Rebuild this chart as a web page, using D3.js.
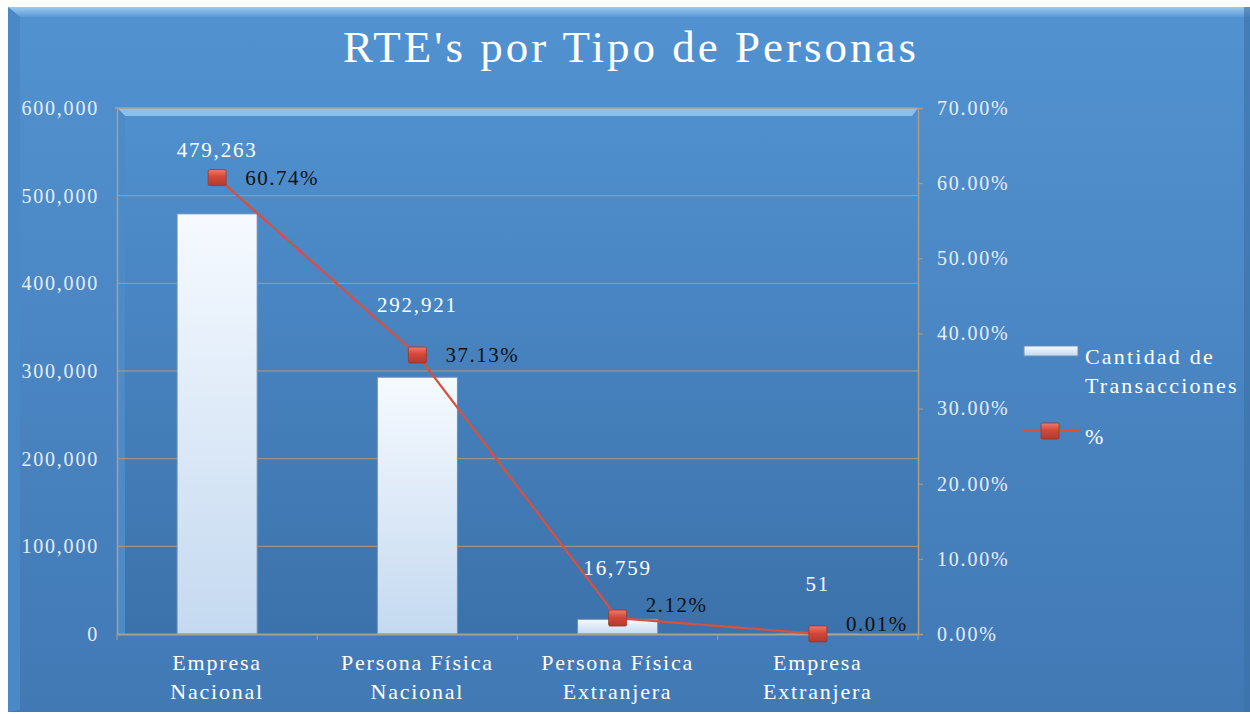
<!DOCTYPE html>
<html>
<head>
<meta charset="utf-8">
<script src="https://cdn.jsdelivr.net/npm/d3@7"></script>
<style>
  html, body { margin: 0; padding: 0; background: #fff; }
  svg { display: block; font-family: "Liberation Serif", "DejaVu Serif", serif; }
</style>
</head>
<body>
<svg id="chart" width="1250" height="714"></svg>
<script>
// chart data
const categories = [['Empresa', 'Nacional'], ['Persona Física', 'Nacional'], ['Persona Física', 'Extranjera'], ['Empresa', 'Extranjera']];
const cantidad = [479263, 292921, 16759, 51];
const percent = [60.74, 37.13, 2.12, 0.01];
const leftTicks = [0, 100000, 200000, 300000, 400000, 500000, 600000];
const rightTicks = [0, 10, 20, 30, 40, 50, 60, 70];
const legendNames = [['Cantidad de', 'Transacciones'], ['%']];
const title = "RTE's por Tipo de Personas";

// small label nudges for the crowded points near the bottom
const pctLabelDy = [0, 0, -13, -10];

const svg = d3.select('#chart');
const W = 1250, H = 714;
const plot = {left: 117, right: 918, top: 108, bottom: 634};

const defs = svg.append('defs');

const bg = defs.append('linearGradient').attr('id', 'bg').attr('x1', 0).attr('y1', 0).attr('x2', 0).attr('y2', 1);
bg.append('stop').attr('offset', '0%').attr('stop-color', '#5292d0');
bg.append('stop').attr('offset', '100%').attr('stop-color', '#4179b5');

const plotBg = defs.append('linearGradient').attr('id', 'plotBg').attr('x1', 0).attr('y1', 0).attr('x2', 0).attr('y2', 1);
plotBg.append('stop').attr('offset', '0%').attr('stop-color', '#5090cf');
plotBg.append('stop').attr('offset', '100%').attr('stop-color', '#3c72ab');

const barFill = defs.append('linearGradient').attr('id', 'barFill').attr('x1', 0).attr('y1', 0).attr('x2', 0).attr('y2', 1);
barFill.append('stop').attr('offset', '0%').attr('stop-color', '#f6faff');
barFill.append('stop').attr('offset', '100%').attr('stop-color', '#c4d9f0');

const marker = defs.append('linearGradient').attr('id', 'marker').attr('x1', 0).attr('y1', 0).attr('x2', 0).attr('y2', 1);
marker.append('stop').attr('offset', '0%').attr('stop-color', '#f07a6c');
marker.append('stop').attr('offset', '45%').attr('stop-color', '#d2483a');
marker.append('stop').attr('offset', '100%').attr('stop-color', '#b23a2e');

const bevel = defs.append('linearGradient').attr('id', 'bevel').attr('x1', 0).attr('y1', 0).attr('x2', 0).attr('y2', 1);
bevel.append('stop').attr('offset', '0%').attr('stop-color', '#9ccaf0');
bevel.append('stop').attr('offset', '100%').attr('stop-color', '#5a9ad6');

// chart background with a bevelled top edge
svg.append('rect').attr('x', 8).attr('y', 7).attr('width', W - 8).attr('height', H - 9).attr('fill', 'url(#bg)');
svg.append('path')
    .attr('d', `M8,7 L${W},7 L${W},17 L20,17 Z`)
    .attr('fill', 'url(#bevel)');
svg.append('path')
    .attr('d', `M8,7 L20,17 L20,${H - 4} L8,${H - 2} Z`)
    .attr('fill', '#4a88c6');
svg.append('rect').attr('x', W - 6).attr('y', 7).attr('width', 6).attr('height', H - 9).attr('fill', '#3a6fa6').attr('opacity', 0.6);

svg.append('text')
    .attr('x', 631).attr('y', 62)
    .attr('text-anchor', 'middle')
    .attr('font-size', 45)
    .attr('letter-spacing', 3)
    .attr('fill', '#ffffff')
    .text(title);

// scales
const x = d3.scaleBand().domain(d3.range(categories.length)).range([plot.left, plot.right]).paddingInner(0.6).paddingOuter(0.3);
const xc = i => x(i) + x.bandwidth() / 2;
const yL = d3.scaleLinear().domain([0, 600000]).range([plot.bottom, plot.top]);
const yR = d3.scaleLinear().domain([0, 70]).range([plot.bottom, plot.top]);

// plot area
svg.append('rect')
    .attr('x', plot.left).attr('y', plot.top)
    .attr('width', plot.right - plot.left).attr('height', plot.bottom - plot.top)
    .attr('fill', 'url(#plotBg)');
svg.append('path')
    .attr('d', `M${plot.left},${plot.top} L${plot.right},${plot.top} L${plot.right - 6},${plot.top + 8} L${plot.left + 8},${plot.top + 8} Z`)
    .attr('fill', '#8cc0ec');
svg.append('path')
    .attr('d', `M${plot.left},${plot.top} L${plot.left + 8},${plot.top + 8} L${plot.left + 8},${plot.bottom} L${plot.left},${plot.bottom} Z`)
    .attr('fill', '#4d8bc8');

// gridlines
svg.append('g')
    .selectAll('line')
    .data(leftTicks.slice(1, -1))
    .join('line')
    .attr('x1', plot.left).attr('x2', plot.right)
    .attr('y1', d => yL(d)).attr('y2', d => yL(d))
    .attr('stroke', '#b09c7e').attr('stroke-width', 1);
svg.append('line')
    .attr('x1', plot.left - 2).attr('x2', plot.right)
    .attr('y1', plot.top).attr('y2', plot.top)
    .attr('stroke', '#a8a090').attr('stroke-width', 1.5);

// left axis
const leftAxis = svg.append('g')
    .attr('transform', `translate(${plot.left},0)`)
    .call(d3.axisLeft(yL).tickValues(leftTicks).tickFormat(d3.format(',')).tickSize(0).tickPadding(18));
leftAxis.select('.domain').attr('stroke', '#a8a090').attr('stroke-width', 1.5);
leftAxis.selectAll('text')
    .attr('font-family', '"Liberation Serif", serif')
    .attr('font-size', 20).attr('letter-spacing', 1.8).attr('fill', '#e6eef8');

// right axis
const rightAxis = svg.append('g')
    .attr('transform', `translate(${plot.right},0)`)
    .call(d3.axisRight(yR).tickValues(rightTicks).tickFormat(d => d.toFixed(2) + '%').tickSize(5).tickPadding(14));
rightAxis.select('.domain').attr('stroke', '#b09c7e').attr('stroke-width', 1.5);
rightAxis.selectAll('.tick line').attr('stroke', '#b09c7e');
rightAxis.selectAll('text')
    .attr('font-family', '"Liberation Serif", serif')
    .attr('font-size', 20).attr('letter-spacing', 1.8).attr('fill', '#e6eef8');

// bars
svg.append('g')
    .selectAll('rect')
    .data(cantidad)
    .join('rect')
    .attr('x', (d, i) => x(i)).attr('width', x.bandwidth())
    .attr('y', d => yL(d)).attr('height', d => plot.bottom - yL(d))
    .attr('fill', 'url(#barFill)')
    .attr('stroke', '#6f8fb2').attr('stroke-width', 1);

// bottom axis
const bottomAxis = svg.append('g')
    .attr('transform', `translate(0,${plot.bottom})`)
    .call(d3.axisBottom(x).tickSize(0).tickFormat(''));
bottomAxis.select('.domain').attr('stroke', '#a8a090').attr('stroke-width', 2);
svg.append('g')
    .selectAll('line')
    .data(d3.range(categories.length + 1))
    .join('line')
    .attr('x1', i => plot.left + i * (plot.right - plot.left) / categories.length)
    .attr('x2', i => plot.left + i * (plot.right - plot.left) / categories.length)
    .attr('y1', plot.bottom).attr('y2', plot.bottom + 6)
    .attr('stroke', '#b09c7e');

const catLabels = svg.append('g')
    .selectAll('text')
    .data(categories)
    .join('text')
    .attr('text-anchor', 'middle')
    .attr('font-size', 22).attr('letter-spacing', 1.8).attr('fill', '#ffffff');
catLabels.each(function(lines, i) {
    d3.select(this).selectAll('tspan')
        .data(lines)
        .join('tspan')
        .attr('x', xc(i))
        .attr('y', (d, j) => 670 + j * 29)
        .text(d => d);
});

// percent line
const line = d3.line().x((d, i) => xc(i)).y(d => yR(d));
svg.append('path')
    .datum(percent)
    .attr('d', line)
    .attr('fill', 'none')
    .attr('stroke', '#d6513f').attr('stroke-width', 2.2);

svg.append('g')
    .selectAll('rect')
    .data(percent)
    .join('rect')
    .attr('x', (d, i) => xc(i) - 9).attr('y', d => yR(d) - 8)
    .attr('width', 18).attr('height', 16)
    .attr('rx', 1.5)
    .attr('fill', 'url(#marker)')
    .attr('stroke', '#9e3428').attr('stroke-width', 0.8);

// data labels
svg.append('g')
    .selectAll('text')
    .data(cantidad)
    .join('text')
    .attr('x', (d, i) => xc(i))
    .attr('y', (d, i) => Math.max(157, yR(percent[i]) - 43))
    .attr('text-anchor', 'middle')
    .attr('font-size', 21).attr('letter-spacing', 1.8).attr('fill', '#ffffff')
    .text(d => d3.format(',')(d));

svg.append('g')
    .selectAll('text')
    .data(percent)
    .join('text')
    .attr('x', (d, i) => xc(i) + 28)
    .attr('y', (d, i) => yR(d) + 7 + pctLabelDy[i])
    .attr('font-size', 21).attr('letter-spacing', 1.5).attr('fill', '#111111')
    .text(d => d.toFixed(2) + '%');

// legend
const legend = svg.append('g');
legend.append('rect')
    .attr('x', 1024).attr('y', 346).attr('width', 54).attr('height', 10)
    .attr('fill', 'url(#barFill)').attr('stroke', '#6f8fb2');
legend.append('text')
    .attr('font-size', 22).attr('letter-spacing', 2.2).attr('fill', '#ffffff')
    .selectAll('tspan')
    .data(legendNames[0])
    .join('tspan')
    .attr('x', 1085)
    .attr('y', (d, j) => 364 + j * 29)
    .text(d => d);
legend.append('line')
    .attr('x1', 1022).attr('x2', 1079).attr('y1', 431).attr('y2', 431)
    .attr('stroke', '#d6513f').attr('stroke-width', 2.2);
legend.append('rect')
    .attr('x', 1041).attr('y', 423).attr('width', 18).attr('height', 16).attr('rx', 1.5)
    .attr('fill', 'url(#marker)').attr('stroke', '#9e3428').attr('stroke-width', 0.8);
legend.append('text')
    .attr('x', 1085).attr('y', 444)
    .attr('font-size', 22).attr('fill', '#ffffff')
    .text(legendNames[1][0]);
</script>
</body>
</html>
